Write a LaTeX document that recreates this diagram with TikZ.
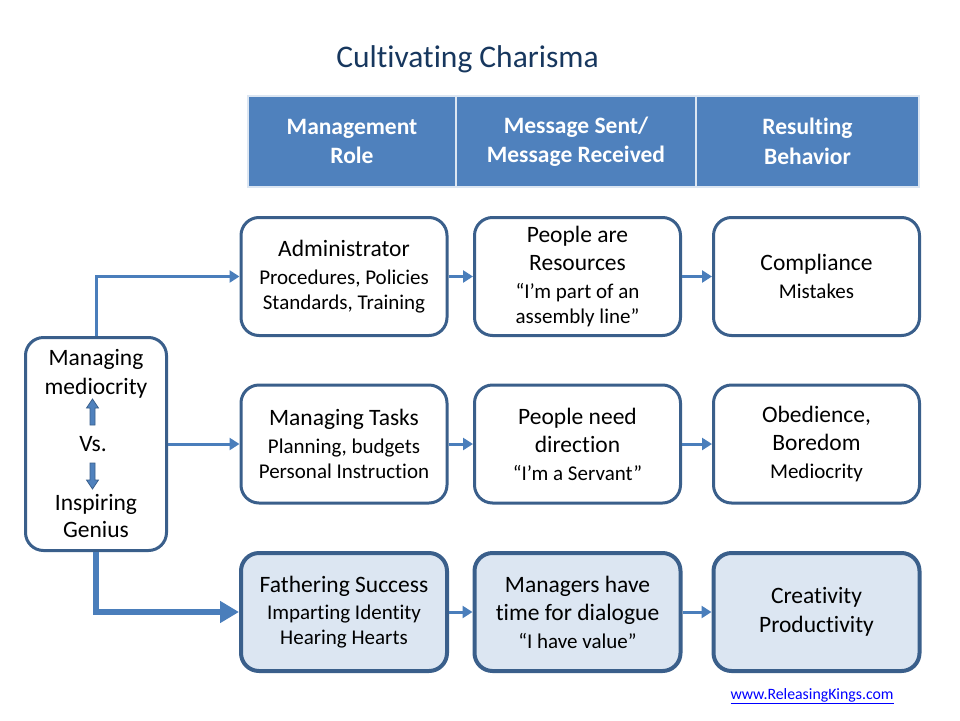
\documentclass[tikz,border=0pt]{standalone}
\usepackage{fontspec}
\setmainfont{Carlito}[RawFeature={-liga;-clig}]
\usetikzlibrary{arrows.meta}
\definecolor{hdr}{HTML}{4F81BD}
\definecolor{bord}{HTML}{3A5F8B}
\definecolor{arr}{HTML}{4A7EBB}
\definecolor{lite}{HTML}{DCE6F2}
\definecolor{ttl}{HTML}{17375E}
\definecolor{lnk}{HTML}{0000FF}
\newcommand\mainf{\fontsize{23.5}{28.5}\selectfont}
\newcommand\subf{\fontsize{21}{25}\selectfont}
\newcommand\mm{\\[3.5pt]}
\newcommand\ms{\\[2.5pt]}
\begin{document}
\begin{tikzpicture}[x=1pt,y=-1pt,
  box/.style={draw=bord, line width=3pt, rounded corners=18pt, fill=white,
    minimum width=206pt, minimum height=118pt, align=center, inner sep=0pt, font=\subf},
  hibox/.style={box, fill=lite, line width=4pt},
  hcell/.style={fill=hdr, draw=white!80!hdr, line width=1.5pt, minimum height=91pt,
    text=white, font=\mainf\bfseries, align=center, inner sep=0pt},
  conn/.style={draw=arr, line width=3pt, -{Triangle[width=12pt,length=10pt]}},
  bigconn/.style={draw=arr, line width=6.5pt, line join=miter, -{Triangle[width=21pt,length=19pt]}},
  ltxt/.style={font=\mainf, anchor=base, inner sep=0pt},
  blockarr/.style={fill=hdr, draw=bord, line width=0.8pt}]
\useasboundingbox (0,0) rectangle (960,720);

% title
\node[font=\fontsize{31.5}{36}\selectfont, text=ttl, anchor=base, inner sep=0pt] (title) at (467.5,67) {Cultivating Charisma};

% header
\node[hcell, minimum width=208pt] (h1) at (352,141.5) {Management\\[1pt]Role};
\node[hcell, minimum width=240pt] (h2) at (576,141.5) {Message Sent/\\[1pt]Message Received};
\node[hcell, minimum width=223pt] (h3) at (807.5,141.5) {Resulting\\[1pt]Behavior};

% row 1
\node[box] (a1) at (344,276.5) {{\mainf Administrator}\ms Procedures, Policies\\Standards, Training};
\node[box] (b1) at (577.5,276.5) {{\mainf People are}\mm{\mainf Resources}\ms“I’m part of an\\assembly line”};
\node[box] (c1) at (816.5,276.5) {{\mainf Compliance}\ms Mistakes};

% row 2
\node[box] (a2) at (344,444) {{\mainf Managing Tasks}\ms Planning, budgets\\Personal Instruction};
\node[box] (b2) at (577.5,444) {{\mainf People need}\mm{\mainf direction}\ms“I’m a Servant”};
\node[box] (c2) at (816.5,444) {{\mainf Obedience,}\mm{\mainf Boredom}\ms Mediocrity};

% row 3
\node[hibox] (a3) at (344,612) {{\mainf Fathering Success}\ms Imparting Identity\\Hearing Hearts};
\node[hibox] (b3) at (577.5,612) {{\mainf Managers have}\mm{\mainf time for dialogue}\ms“I have value”};
\node[hibox] (c3) at (816.5,612) {{\mainf Creativity}\mm{\mainf Productivity}};

% left box
\node[box, minimum width=141pt, minimum height=213pt] (L) at (96,444) {};
\node[ltxt] (l1) at (96,365.5) {Managing};
\node[ltxt] (l2) at (96,394) {mediocrity};
\node[ltxt] (l3) at (93,451) {Vs.};
\node[ltxt] (l4) at (96,510) {Inspiring};
\node[ltxt] (l5) at (96,537.5) {Genius};
% small block arrows
\draw[blockarr] (90,425) -- (90,408) -- (86.5,408) -- (92.5,399) -- (98.5,408) -- (95,408) -- (95,425) -- cycle;
\draw[blockarr] (90,463) -- (90,480) -- (86.5,480) -- (92.5,489) -- (98.5,480) -- (95,480) -- (95,463) -- cycle;

% connectors
\draw[conn] (L.north) |- (a1.west);
\draw[conn] (L.east) -- (a2.west);
\draw[bigconn] (L.south) |- (a3.west);
\draw[conn] (a1.east) -- (b1.west);
\draw[conn] (b1.east) -- (c1.west);
\draw[conn] (a2.east) -- (b2.west);
\draw[conn] (b2.east) -- (c2.west);
\draw[conn] (a3.east) -- (b3.west);
\draw[conn] (b3.east) -- (c3.west);

% link
\node[font=\fontsize{15.8}{19}\selectfont, text=lnk, anchor=base, inner sep=0pt] (link) at (812,699) {\underline{www.ReleasingKings.com}};
\end{tikzpicture}
\end{document}
